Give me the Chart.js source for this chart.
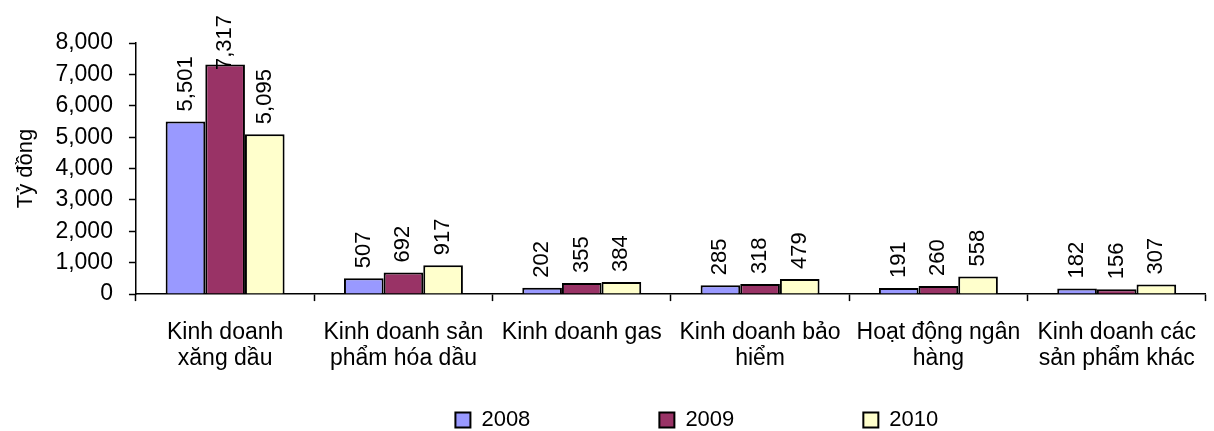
<!DOCTYPE html>
<html>
<head>
<meta charset="utf-8">
<script src="https://cdn.jsdelivr.net/npm/chart.js@4/dist/chart.umd.min.js"></script>
<style>
  html, body { margin: 0; padding: 0; background: #fff; }
</style>
</head>
<body>
<canvas id="chart" width="1214" height="431"></canvas>
<script>
const categories = [
  ["Kinh doanh", "xăng dầu"],
  ["Kinh doanh sản", "phẩm hóa dầu"],
  ["Kinh doanh gas"],
  ["Kinh doanh bảo", "hiểm"],
  ["Hoạt động ngân", "hàng"],
  ["Kinh doanh các", "sản phẩm khác"]
];
const years = ["2008", "2009", "2010"];
const values2008 = [5501, 507, 202, 285, 191, 182];
const values2009 = [7317, 692, 355, 318, 260, 156];
const values2010 = [5095, 917, 384, 479, 558, 307];
const colors = ["#9999FF", "#993366", "#FFFFCC"];

const FONT = "'Liberation Sans', Arial, sans-serif";

// rotated value labels above each bar
const barLabels = {
  id: "barLabels",
  afterDatasetsDraw(chart) {
    const ctx = chart.ctx;
    ctx.save();
    ctx.font = "22px " + FONT;
    ctx.fillStyle = "#000";
    ctx.textAlign = "left";
    ctx.textBaseline = "middle";
    chart.data.datasets.forEach((ds, i) => {
      chart.getDatasetMeta(i).data.forEach((bar, j) => {
        const txt = ds.data[j].toLocaleString("en-US");
        const w = ctx.measureText(txt).width;
        let y = bar.y - 10;
        if (y - w < 15) y = 15 + w;
        ctx.save();
        ctx.translate(bar.x, y);
        ctx.rotate(-Math.PI / 2);
        ctx.fillText(txt, 0, 0);
        ctx.restore();
      });
    });
    ctx.restore();
  }
};

const pad = (s, n) => s + " ".repeat(n);

new Chart(document.getElementById("chart").getContext("2d"), {
  type: "bar",
  data: {
    labels: categories,
    datasets: [
      { label: years[0], data: values2008, backgroundColor: colors[0] },
      { label: years[1], data: values2009, backgroundColor: colors[1] },
      { label: years[2], data: values2010, backgroundColor: colors[2] }
    ].map(d => ({ ...d, borderColor: "#000", borderWidth: 2, borderSkipped: "bottom",
      categoryPercentage: 0.667, barPercentage: 1 }))
  },
  options: {
    responsive: false,
    animation: false,
    layout: { padding: { top: 43, left: 11, right: 0, bottom: -10 } },
    plugins: {
      tooltip: { enabled: false },
      legend: {
        position: "bottom",
        align: "end",
        labels: {
          color: "#000",
          font: { family: FONT, size: 22 },
          boxWidth: 15,
          boxHeight: 15,
          padding: 19,
          generateLabels(chart) {
            const spaces = [18, 18, 42];
            return chart.data.datasets.map((ds, i) => ({
              text: pad(ds.label, spaces[i]),
              fillStyle: ds.backgroundColor,
              strokeStyle: "#000",
              lineWidth: 2,
              datasetIndex: i,
              hidden: false
            }));
          }
        }
      }
    },
    scales: {
      x: {
        grid: { display: true, drawOnChartArea: false, drawTicks: true, tickLength: 7, tickColor: "#000", tickWidth: 1.5 },
        border: { color: "#000", width: 1.5 },
        ticks: { color: "#000", font: { family: FONT, size: 23, lineHeight: 1.15 }, padding: 18, maxRotation: 0, autoSkip: false }
      },
      y: {
        min: 0,
        max: 8000,
        ticks: { stepSize: 1000, color: "#000", font: { family: FONT, size: 23 }, padding: 16 },
        grid: { display: true, drawOnChartArea: false, drawTicks: true, tickLength: 7, tickColor: "#000", tickWidth: 1.5 },
        border: { color: "#000", width: 1.5 },
        title: { display: true, text: "Tỷ đồng", color: "#000", font: { family: FONT, size: 22 }, padding: { top: 2, bottom: 0 } }
      }
    }
  },
  plugins: [barLabels]
});
</script>
</body>
</html>
